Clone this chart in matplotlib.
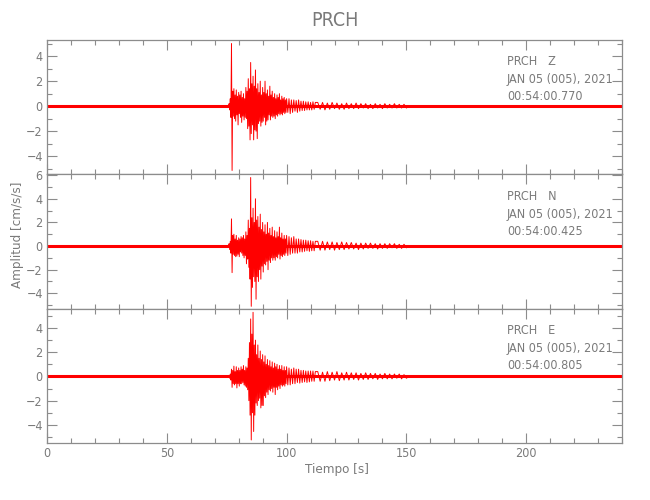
import numpy as np
import matplotlib
matplotlib.use('Agg')
import matplotlib.pyplot as plt
from matplotlib.ticker import MultipleLocator

# station / component info
station = 'PRCH'
components = ['Z', 'N', 'E']
date_label = 'JAN 05 (005), 2021'
start_times = ['00:54:00.770', '00:54:00.425', '00:54:00.805']
y_limits = [(-5.46, 5.3), (-5.3, 6.07), (-5.5, 5.6)]

# quiet baseline before and after the event
t_pre = [0.0, 75.75]
t_post = [151.0, 240.0]
quiet = [0.0, 0.0]

# sample times: strong motion every 0.25 s, then 0.5 s, coda every 1 s
t_dense = np.arange(76.0, 100.0, 0.25)
t_mid = np.arange(100.0, 112.5, 0.5)
t_coda = np.arange(113.0, 151.0, 1.0)

# amplitudes [cm/s/s]
z_dense = [0.2, -0.3, 0.6, -0.9, 5.0, -5.15, 1.2, -0.8, 1.4, -1.0, 0.9, -1.2,
           1.3, -0.7, 0.8, -1.5, 1.1, -0.6, 0.9, -0.9, 1.2, -1.3, 0.7, -0.8,
           1.0, -1.1, 0.6, -0.9, 1.5, -1.0, 1.2, -1.8, 2.2, -1.6, 1.4, -2.7,
           3.5, -2.2, 1.8, -1.5, 2.4, -2.7, 1.6, -1.9, 2.9, -2.0, 1.4, -2.6,
           1.8, -1.4, 1.1, -1.2, 2.0, -1.6, 0.9, -1.3, 1.5, -1.2, 1.1, -0.9,
           2.0, -1.5, 1.0, -1.2, 1.3, -1.1, 0.8, -0.7, 1.6, -1.1, 0.9, -0.8,
           1.2, -0.9, 0.7, -0.8, 1.0, -1.0, 0.6, -0.7, 0.9, -0.8, 0.7, -0.6,
           1.0, -0.7, 0.5, -0.6, 0.8, -0.7, 0.6, -0.5, 0.7, -0.6, 0.5, -0.5]
z_mid = [0.6, -0.5, 0.6, -0.6, 0.5, -0.5, 0.5, -0.4, 0.45, -0.5, 0.5, -0.4,
         0.4, -0.35, 0.4, -0.35, 0.35, -0.3, 0.35, -0.3, 0.3, -0.3, 0.35, -0.25, 0.3]
z_coda = [0.3, -0.25, 0.3, -0.3, 0.25, -0.25, 0.3, -0.2, 0.25, -0.25,
          0.2, -0.25, 0.25, -0.2, 0.2, -0.2, 0.25, -0.2, 0.2, -0.15,
          0.2, -0.2, 0.15, -0.2, 0.2, -0.15, 0.15, -0.2, 0.2, -0.15,
          0.15, -0.15, 0.2, -0.15, 0.15, -0.15, 0.15, -0.15]

n_dense = [0.2, -0.3, 0.4, -0.6, 2.3, -2.25, 0.9, -0.7, 1.0, -0.8, 0.6, -0.9,
           0.9, -0.85, 0.5, -0.7, 0.7, -0.9, 0.6, -0.5, 0.8, -0.6, 0.7, -0.8,
           0.9, -1.0, 0.6, -0.8, 1.2, -1.5, 0.9, -1.1, 2.2, -1.8, 1.5, -2.8,
           5.8, -5.1, 2.4, -3.5, 3.2, -2.6, 2.0, -3.0, 4.0, -4.5, 2.2, -2.6,
           2.5, -3.0, 1.6, -2.0, 2.7, -2.8, 1.4, -1.7, 2.0, -2.2, 1.2, -1.5,
           1.8, -1.6, 1.0, -1.3, 2.0, -2.0, 1.1, -1.2, 1.5, -1.4, 0.9, -1.0,
           1.6, -1.2, 0.8, -1.0, 1.3, -1.2, 0.7, -0.9, 1.2, -1.0, 0.8, -0.7,
           1.6, -1.1, 0.7, -0.8, 1.1, -0.9, 0.6, -0.7, 0.9, -0.8, 0.6, -0.6]
n_mid = [0.9, -0.8, 0.8, -0.7, 0.7, -0.6, 0.8, -0.6, 0.6, -0.6, 0.6, -0.5,
         0.55, -0.5, 0.5, -0.45, 0.5, -0.4, 0.45, -0.45, 0.45, -0.4, 0.4, -0.4, 0.4]
n_coda = [0.4, -0.35, 0.4, -0.35, 0.35, -0.3, 0.35, -0.35, 0.3, -0.3,
          0.35, -0.3, 0.3, -0.25, 0.3, -0.25, 0.25, -0.3, 0.25, -0.25,
          0.25, -0.2, 0.25, -0.2, 0.2, -0.25, 0.2, -0.2, 0.2, -0.2,
          0.2, -0.15, 0.2, -0.2, 0.15, -0.2, 0.15, -0.15]

e_dense = [0.1, -0.15, 0.2, -0.3, 0.6, -0.9, 0.5, -0.6, 0.85, -0.7, 0.4, -0.6,
           0.8, -0.95, 0.5, -0.6, 0.7, -0.8, 0.5, -0.6, 0.8, -0.6, 0.6, -0.5,
           0.9, -0.7, 0.5, -0.8, 0.8, -0.9, 0.7, -1.1, 1.5, -2.0, 2.8, -3.2,
           4.75, -5.25, 3.5, -3.0, 5.3, -4.55, 2.6, -3.2, 3.0, -2.2, 1.8, -2.4,
           2.6, -2.0, 1.5, -1.8, 2.1, -2.6, 1.4, -2.4, 1.8, -2.4, 1.2, -1.6,
           1.7, -1.75, 1.0, -1.3, 1.4, -1.5, 0.9, -1.1, 1.3, -1.2, 0.8, -1.0,
           1.2, -1.3, 0.7, -0.9, 1.1, -1.5, 0.8, -0.9, 1.0, -1.1, 0.6, -0.8,
           0.9, -1.0, 0.6, -0.7, 0.9, -0.8, 0.5, -0.7, 0.8, -0.8, 0.5, -0.6]
e_mid = [0.8, -0.7, 0.7, -0.7, 0.6, -0.6, 0.7, -0.6, 0.6, -0.5, 0.6, -0.55,
         0.5, -0.5, 0.5, -0.45, 0.45, -0.5, 0.45, -0.45, 0.45, -0.4, 0.45, -0.4, 0.4]
e_coda = [0.4, -0.4, 0.35, -0.4, 0.4, -0.35, 0.35, -0.3, 0.4, -0.35,
          0.3, -0.3, 0.35, -0.3, 0.3, -0.25, 0.3, -0.3, 0.25, -0.25,
          0.3, -0.25, 0.25, -0.2, 0.25, -0.25, 0.2, -0.2, 0.25, -0.2,
          0.2, -0.2, 0.2, -0.15, 0.2, -0.2, 0.15, -0.15]

traces = [(z_dense, z_mid, z_coda), (n_dense, n_mid, n_coda), (e_dense, e_mid, e_coda)]

plt.rcParams['font.family'] = ['DejaVu Sans']
plt.rcParams['font.stretch'] = 'condensed'

gray = '#8c8c8c'
txt = '#7a7a7a'

fig, axes = plt.subplots(3, 1, figsize=(6.5, 5), dpi=100, sharex=True)
fig.subplots_adjust(left=0.0723, right=0.957, top=0.92, bottom=0.114, hspace=0)

for i, ax in enumerate(axes):
    dense, mid, coda = traces[i]
    t = np.concatenate([t_pre, t_dense, t_mid, t_coda, t_post])
    a = np.concatenate([quiet, dense, mid, coda, quiet])
    # noise band along the baseline
    ax.plot([0, 240], [0, 0], color='red', lw=2.2, solid_capstyle='butt')
    ax.plot(t, a, color='red', lw=0.7)

    ax.set_xlim(0, 240)
    ax.set_ylim(*y_limits[i])
    ax.xaxis.set_major_locator(MultipleLocator(50))
    ax.xaxis.set_minor_locator(MultipleLocator(10))
    ax.yaxis.set_major_locator(MultipleLocator(2))
    ax.yaxis.set_minor_locator(MultipleLocator(1))
    ax.tick_params(which='both', direction='in', top=True, right=True,
                   color=gray, labelcolor=txt, labelsize=9, width=0.8, pad=3)
    ax.tick_params(which='major', length=7)
    ax.tick_params(which='minor', length=3.5)
    for sp in ax.spines.values():
        sp.set_color(gray)
        sp.set_linewidth(0.9)

    ax.text(0.80, 0.837, f'{station}   {components[i]}', transform=ax.transAxes,
            color=txt, fontsize=9, va='center')
    ax.text(0.80, 0.704, date_label, transform=ax.transAxes,
            color=txt, fontsize=9, va='center')
    ax.text(0.80, 0.578, start_times[i], transform=ax.transAxes,
            color=txt, fontsize=9, va='center')

fig.text(0.5146, 0.96, station, ha='center', va='center', color=txt, fontsize=14)
fig.text(0.027, 0.53, 'Amplitud [cm/s/s]', rotation=90, ha='center', va='center',
         color=txt, fontsize=9.5)
fig.text(0.518, 0.062, 'Tiempo [s]', ha='center', va='center', color=txt, fontsize=9.5)

plt.savefig('out.png', dpi=100)
